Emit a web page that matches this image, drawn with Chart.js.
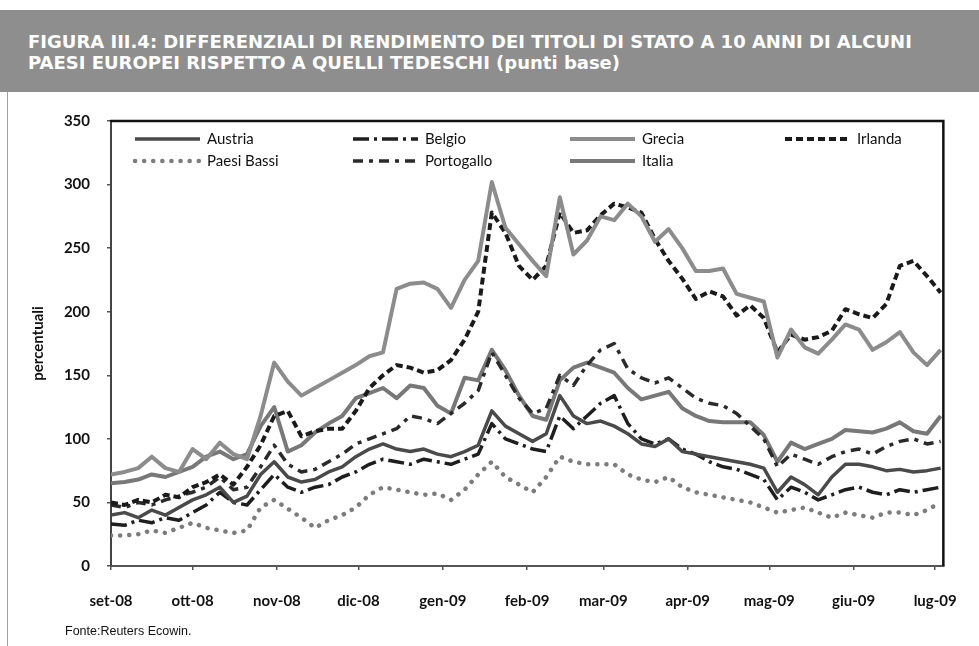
<!DOCTYPE html>
<html lang="it">
<head>
<meta charset="utf-8">
<title>Figura III.4</title>
<script src="https://cdn.jsdelivr.net/npm/chart.js@4.4.1/dist/chart.umd.min.js"></script>
<style>
  html, body { margin: 0; padding: 0; background: #fff; }
  body { width: 979px; height: 646px; position: relative; overflow: hidden; }
  #banner {
    position: absolute; left: 0; top: 10px; width: 979px; height: 82px;
    background: #8e8e8e; box-sizing: border-box; padding: 21px 0 0 28px;
    color: #fff; font-family: "DejaVu Sans", sans-serif; font-weight: bold;
    font-size: 18px; line-height: 21px; white-space: nowrap;
  }
  #sideLine { position: absolute; left: 7px; top: 92px; width: 1px; height: 554px; background: #a0a0a0; }
  #wrap { position: absolute; left: 0; top: 95px; }
  #source { position: absolute; left: 65px; top: 624px; font-family: "Liberation Sans", Arial, sans-serif; font-size: 12.5px; color: #111; }
</style>
</head>
<body>
<div id="banner">FIGURA III.4: DIFFERENZIALI DI RENDIMENTO DEI TITOLI DI STATO A 10 ANNI DI ALCUNI<br>PAESI EUROPEI RISPETTO A QUELLI TEDESCHI (punti base)</div>
<div id="sideLine"></div>
<div id="wrap"><canvas id="spreadChart" width="979" height="551"></canvas></div>
<div id="source">Fonte:Reuters Ecowin.</div>
<script>
// giorni dal 1 settembre 2008
const days = [0, 5, 10, 15, 20, 25, 30, 35, 40, 45, 50, 55, 60, 65, 70, 75, 80, 85, 90, 95,
  100, 105, 110, 115, 120, 125, 130, 135, 140, 145, 150, 155, 160, 165, 170, 175, 180, 185, 190, 195,
  200, 205, 210, 215, 220, 225, 230, 235, 240, 245, 250, 255, 260, 265, 270, 275, 280, 285, 290, 295,
  300, 305];

const monthDays = [0, 30, 61, 91, 122, 153, 181, 212, 242, 273, 303];
const monthLabels = ['set-08', 'ott-08', 'nov-08', 'dic-08', 'gen-09', 'feb-09', 'mar-09', 'apr-09', 'mag-09', 'giu-09', 'lug-09'];

const austria = [40, 42, 38, 44, 40, 46, 52, 56, 62, 50, 55, 72, 82, 70, 66, 68, 74, 78, 86, 92,
  96, 92, 90, 92, 88, 86, 90, 95, 122, 110, 104, 98, 104, 134, 118, 112, 114, 110, 104, 96,
  94, 100, 90, 88, 86, 84, 82, 80, 77, 58, 70, 64, 56, 70, 80, 80, 78, 75, 76, 74,
  75, 77];
const belgio = [33, 32, 36, 34, 38, 36, 42, 48, 58, 50, 48, 60, 72, 62, 58, 62, 64, 70, 74, 80,
  84, 82, 80, 84, 82, 80, 84, 88, 112, 100, 96, 92, 90, 118, 108, 118, 128, 134, 112, 100,
  96, 100, 92, 88, 82, 78, 76, 72, 68, 52, 62, 58, 52, 56, 60, 62, 58, 56, 60, 58,
  60, 62];
const grecia = [72, 74, 77, 86, 77, 74, 92, 84, 97, 88, 84, 118, 160, 145, 134, 140, 146, 152, 158, 165,
  168, 218, 222, 223, 218, 203, 225, 240, 302, 266, 253, 240, 228, 290, 245, 256, 275, 272, 285, 275,
  255, 265, 250, 232, 232, 234, 214, 211, 208, 164, 186, 172, 167, 178, 190, 186, 170, 176, 184, 168,
  158, 170];
const irlanda = [50, 48, 52, 50, 56, 54, 62, 66, 72, 64, 78, 95, 118, 122, 102, 106, 108, 108, 122, 140,
  150, 158, 156, 152, 154, 162, 178, 200, 278, 262, 236, 225, 236, 278, 262, 264, 276, 285, 282, 278,
  257, 240, 226, 210, 216, 212, 197, 205, 195, 168, 182, 178, 180, 185, 202, 198, 195, 206, 236, 240,
  228, 215];
const paesiBassi = [24, 24, 25, 28, 26, 30, 34, 30, 28, 26, 28, 46, 52, 45, 38, 30, 36, 40, 46, 56,
  62, 60, 58, 56, 57, 52, 60, 72, 82, 70, 64, 58, 70, 86, 82, 80, 80, 80, 72, 68,
  66, 70, 62, 58, 56, 54, 52, 50, 46, 42, 44, 46, 42, 38, 42, 40, 38, 42, 42, 40,
  44, 50];
const portogallo = [48, 46, 50, 48, 52, 55, 58, 62, 70, 60, 62, 78, 95, 80, 74, 76, 82, 88, 96, 100,
  104, 108, 118, 116, 112, 120, 128, 138, 168, 150, 132, 120, 124, 150, 142, 158, 170, 175, 155, 148,
  144, 148, 140, 132, 128, 126, 120, 110, 100, 78, 88, 84, 80, 86, 90, 92, 88, 94, 98, 100,
  96, 98];
const italia = [65, 66, 68, 72, 70, 74, 78, 86, 90, 84, 88, 110, 125, 90, 95, 105, 112, 118, 132, 136,
  140, 132, 142, 140, 126, 120, 148, 146, 170, 154, 134, 118, 115, 146, 156, 160, 156, 152, 140, 131,
  134, 137, 124, 118, 114, 113, 113, 113, 103, 82, 97, 92, 96, 100, 107, 106, 105, 108, 113, 106,
  104, 118];

const toPoints = vals => days.map((d, i) => ({ x: d, y: vals[i] }));

const datasets = [
  { label: 'Austria', data: toPoints(austria), borderColor: '#4a4a4a', borderWidth: 3.5 },
  { label: 'Belgio', data: toPoints(belgio), borderColor: '#1e1e1e', borderWidth: 3.5, borderDash: [16, 5, 3, 5] },
  { label: 'Grecia', data: toPoints(grecia), borderColor: '#8c8c8c', borderWidth: 4 },
  { label: 'Irlanda', data: toPoints(irlanda), borderColor: '#1a1a1a', borderWidth: 4, borderDash: [7, 4] },
  { label: 'Paesi Bassi', data: toPoints(paesiBassi), borderColor: '#7c7c7c', borderWidth: 4.5, borderDash: [0.1, 9], borderCapStyle: 'round' },
  { label: 'Portogallo', data: toPoints(portogallo), borderColor: '#2a2a2a', borderWidth: 3.5, borderDash: [10, 6, 4, 6] },
  { label: 'Italia', data: toPoints(italia), borderColor: '#787878', borderWidth: 4 }
];

// legenda a griglia (4 colonne, 2 righe) dentro l'area del grafico
const gridLegend = {
  id: 'gridLegend',
  afterDraw(chart) {
    const { ctx, chartArea } = chart;
    const colX = [24, 242, 459, 674];
    const rowY = [18, 40];
    ctx.save();
    chart.data.datasets.forEach((ds, i) => {
      const x = chartArea.left + colX[i % 4];
      const y = chartArea.top + rowY[Math.floor(i / 4)];
      ctx.beginPath();
      ctx.strokeStyle = ds.borderColor;
      ctx.lineWidth = ds.borderWidth;
      ctx.lineCap = ds.borderCapStyle || 'butt';
      ctx.setLineDash(ds.borderDash || []);
      ctx.moveTo(x, y);
      ctx.lineTo(x + 65, y);
      ctx.stroke();
      ctx.setLineDash([]);
      ctx.fillStyle = '#111';
      ctx.font = '15px Lato';
      ctx.textBaseline = 'middle';
      ctx.fillText(ds.label, x + 72, y);
    });
    ctx.restore();
  }
};

// bordo nero in alto e a destra
const plotFrame = {
  id: 'plotFrame',
  afterDraw(chart) {
    const { ctx, chartArea: a } = chart;
    ctx.save();
    ctx.strokeStyle = '#111';
    ctx.lineWidth = 2.5;
    ctx.beginPath();
    ctx.moveTo(a.left - 1, a.top);
    ctx.lineTo(a.right, a.top);
    ctx.lineTo(a.right, a.bottom);
    ctx.stroke();
    ctx.restore();
  }
};

const tickFont = { family: 'Lato', size: 15, weight: 'bold' };

new Chart(document.getElementById('spreadChart').getContext('2d'), {
  type: 'line',
  data: { datasets: datasets },
  options: {
    responsive: false,
    animation: false,
    layout: { padding: { top: 18, right: 26, left: 0, bottom: 0 } },
    elements: { point: { radius: 0 }, line: { tension: 0, borderJoinStyle: 'round' } },
    plugins: { legend: { display: false }, tooltip: { enabled: false } },
    scales: {
      x: {
        type: 'linear',
        min: 0,
        max: 306,
        afterBuildTicks: s => { s.ticks = monthDays.map(v => ({ value: v })); },
        afterFit: s => { s.height = 80; },
        ticks: {
          autoSkip: false,
          maxRotation: 0,
          padding: 22,
          color: '#111',
          font: tickFont,
          callback: (v, i) => monthLabels[i]
        },
        grid: { drawOnChartArea: false, drawTicks: true, tickLength: 4, color: '#555', lineWidth: 1.5 },
        border: { color: '#555', width: 2 }
      },
      y: {
        min: 0,
        max: 350,
        afterFit: s => { s.width = 111; },
        ticks: { stepSize: 50, padding: 17, color: '#111', font: tickFont },
        title: {
          display: true,
          text: 'percentuali',
          color: '#111',
          font: { family: 'Lato', size: 15, weight: 'bold' },
          padding: { top: 29, bottom: 0 }
        },
        grid: { drawOnChartArea: false, drawTicks: true, tickLength: 4, color: '#555', lineWidth: 1.5 },
        border: { color: '#444', width: 2 }
      }
    }
  },
  plugins: [gridLegend, plotFrame]
});
</script>
</body>
</html>
